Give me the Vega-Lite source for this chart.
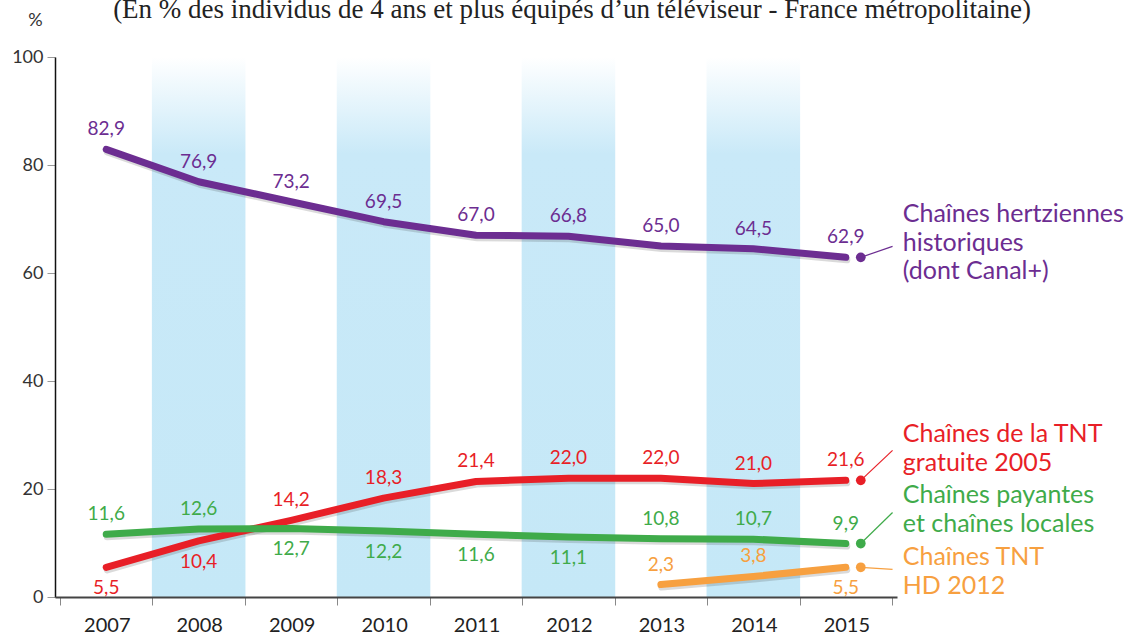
{
  "$schema": "https://vega.github.io/schema/vega-lite/v6.json",
  "width": 842,
  "height": 540,
  "autosize": {"type": "none"},
  "padding": {"left": 55, "top": 57, "right": 244, "bottom": 38},
  "background": "white",
  "config": {
    "locale": {"number": {"decimal": ",", "thousands": "\u00a0", "grouping": [3], "currency": ["", " €"]}},
    "view": {"stroke": null},
    "font": "Lato"
  },
  "title": {
    "text": "(En % des individus de 4 ans et plus équipés d’un téléviseur - France métropolitaine)",
    "font": "Liberation Serif",
    "fontSize": 27,
    "fontWeight": "normal",
    "color": "#222222",
    "anchor": "middle",
    "frame": "group",
    "dx": 96,
    "offset": -34,
    "baseline": "alphabetic"
  },
  "datasets": {
    "tv": [
      {"s": "H", "year": 2007, "v": 82.9},
      {"s": "H", "year": 2008, "v": 76.9},
      {"s": "H", "year": 2009, "v": 73.2},
      {"s": "H", "year": 2010, "v": 69.5},
      {"s": "H", "year": 2011, "v": 67.0},
      {"s": "H", "year": 2012, "v": 66.8},
      {"s": "H", "year": 2013, "v": 65.0},
      {"s": "H", "year": 2014, "v": 64.5},
      {"s": "H", "year": 2015, "v": 62.9},
      {"s": "T", "year": 2007, "v": 5.5},
      {"s": "T", "year": 2008, "v": 10.4},
      {"s": "T", "year": 2009, "v": 14.2},
      {"s": "T", "year": 2010, "v": 18.3},
      {"s": "T", "year": 2011, "v": 21.4},
      {"s": "T", "year": 2012, "v": 22.0},
      {"s": "T", "year": 2013, "v": 22.0},
      {"s": "T", "year": 2014, "v": 21.0},
      {"s": "T", "year": 2015, "v": 21.6},
      {"s": "P", "year": 2007, "v": 11.6},
      {"s": "P", "year": 2008, "v": 12.6},
      {"s": "P", "year": 2009, "v": 12.7},
      {"s": "P", "year": 2010, "v": 12.2},
      {"s": "P", "year": 2011, "v": 11.6},
      {"s": "P", "year": 2012, "v": 11.1},
      {"s": "P", "year": 2013, "v": 10.8},
      {"s": "P", "year": 2014, "v": 10.7},
      {"s": "P", "year": 2015, "v": 9.9},
      {"s": "HD", "year": 2013, "v": 2.3},
      {"s": "HD", "year": 2014, "v": 3.8},
      {"s": "HD", "year": 2015, "v": 5.5}
    ],
    "bands": [{"year": 2008}, {"year": 2010}, {"year": 2012}, {"year": 2014}]
  },
  "data": {"name": "tv"},
  "encoding": {
    "x": {
      "field": "year",
      "type": "quantitative",
      "scale": {"domain": [2006.5, 2015.5], "nice": false, "zero": false},
      "axis": {
        "values": [2006.5, 2007.5, 2008.5, 2009.5, 2010.5, 2011.5, 2012.5, 2013.5, 2014.5, 2015.5],
        "labelExpr": "datum.value < 2015 ? format(datum.value + 0.5, 'd') : ''",
        "labelOffset": 46.78,
        "labelFlush": false,
        "labelOverlap": false,
        "labelBound": false,
        "labelFontSize": 20,
        "labelColor": "#222222",
        "labelPadding": 10,
        "tickSize": 8,
        "tickColor": "#888888",
        "tickWidth": 1,
        "domainColor": "#444444",
        "domainWidth": 2,
        "grid": false,
        "title": null,
        "zindex": 1
      }
    }
  },
  "layer": [
    {
      "data": {"name": "bands"},
      "mark": {
        "type": "bar",
        "width": 93.56,
        "fill": {
          "x1": 0, "y1": 0, "x2": 0, "y2": 1,
          "gradient": "linear",
          "stops": [
            {"offset": 0, "color": "#ffffff"},
            {"offset": 0.18, "color": "#c9e9f8"},
            {"offset": 1, "color": "#c5e8f7"}
          ]
        }
      },
      "encoding": {
        "y": {
          "datum": 100,
          "type": "quantitative",
          "title": "%",
          "scale": {"domain": [0, 100], "nice": false},
          "axis": {
            "values": [0, 20, 40, 60, 80, 100],
            "titleAngle": 0,
            "titleX": -20,
            "titleY": -32,
            "titleAlign": "center",
            "titleBaseline": "alphabetic",
            "titleFontSize": 18,
            "titleFontWeight": "normal",
            "titleColor": "#333333",
            "labelFontSize": 18,
            "labelColor": "#333333",
            "labelPadding": 4,
            "labelFlush": false,
            "tickSize": 8,
            "tickColor": "#999999",
            "domainColor": "#111111",
            "domainWidth": 1.5,
            "gridColor": "#aaaaaa",
            "gridWidth": 1
          }
        },
        "y2": {"datum": 0}
      }
    },
    {
      "mark": {"type": "line", "strokeWidth": 7, "strokeCap": "round", "strokeJoin": "round", "color": "#333333", "opacity": 0.18, "xOffset": 1, "yOffset": 2.5},
      "encoding": {
        "y": {"field": "v", "type": "quantitative", "title": "%", "scale": {"domain": [0, 100], "nice": false}},
        "detail": {"field": "s"}
      }
    },
    {
      "mark": {"type": "line", "strokeWidth": 7, "strokeCap": "round", "strokeJoin": "round"},
      "encoding": {
        "y": {"field": "v", "type": "quantitative", "title": "%", "scale": {"domain": [0, 100], "nice": false}},
        "color": {"field": "s", "type": "nominal", "scale": {"domain": ["H", "T", "P", "HD"], "range": ["#6c2d91", "#e81f27", "#3fab4a", "#f7a040"]}, "legend": null}
      }
    },
    {
      "transform": [{"filter": "!((datum.s == 'T' && datum.year <= 2008) || (datum.s == 'P' && datum.year >= 2009 && datum.year <= 2012) || (datum.s == 'HD' && datum.year == 2015))"}],
      "mark": {"type": "text", "dy": -20, "fontSize": 19, "align": "center", "baseline": "middle"},
      "encoding": {
        "y": {"field": "v", "type": "quantitative", "title": "%", "scale": {"domain": [0, 100], "nice": false}},
        "text": {"field": "v", "type": "quantitative", "format": ".1f"},
        "color": {"field": "s", "type": "nominal", "scale": {"domain": ["H", "T", "P", "HD"], "range": ["#6c2d91", "#e81f27", "#3fab4a", "#f7a040"]}, "legend": null}
      }
    },
    {
      "transform": [{"filter": "(datum.s == 'T' && datum.year <= 2008) || (datum.s == 'P' && datum.year >= 2009 && datum.year <= 2012) || (datum.s == 'HD' && datum.year == 2015)"}],
      "mark": {"type": "text", "dy": 21, "fontSize": 19, "align": "center", "baseline": "middle"},
      "encoding": {
        "y": {"field": "v", "type": "quantitative", "title": "%", "scale": {"domain": [0, 100], "nice": false}},
        "text": {"field": "v", "type": "quantitative", "format": ".1f"},
        "color": {"field": "s", "type": "nominal", "scale": {"domain": ["H", "T", "P", "HD"], "range": ["#6c2d91", "#e81f27", "#3fab4a", "#f7a040"]}, "legend": null}
      }
    },
    {
      "transform": [{"filter": "datum.year == 2015"}],
      "mark": {"type": "circle", "xOffset": 15, "size": 95, "opacity": 1},
      "encoding": {
        "y": {"field": "v", "type": "quantitative", "title": "%", "scale": {"domain": [0, 100], "nice": false}},
        "color": {"field": "s", "type": "nominal", "scale": {"domain": ["H", "T", "P", "HD"], "range": ["#6c2d91", "#e81f27", "#3fab4a", "#f7a040"]}, "legend": null}
      }
    },
    {
      "transform": [{"filter": "datum.year == 2015 && datum.s == 'H'"}],
      "layer": [
        {
          "mark": {"type": "rule", "xOffset": 15, "x2Offset": 46.78, "y2Offset": -11, "strokeWidth": 1.2},
          "encoding": {
            "y": {"field": "v", "type": "quantitative", "title": "%", "scale": {"domain": [0, 100], "nice": false}},
            "x2": {"field": "year"},
            "y2": {"field": "v"},
            "color": {"field": "s", "type": "nominal", "scale": {"domain": ["H", "T", "P", "HD"], "range": ["#6c2d91", "#e81f27", "#3fab4a", "#f7a040"]}, "legend": null}
          }
        },
        {
          "mark": {"type": "text", "xOffset": 57, "dy": -43, "align": "left", "baseline": "middle", "fontSize": 25, "lineHeight": 28.5},
          "encoding": {
            "y": {"field": "v", "type": "quantitative", "title": "%", "scale": {"domain": [0, 100], "nice": false}},
            "text": {"value": ["Chaînes hertziennes", "historiques", "(dont Canal+)"]},
            "color": {"field": "s", "type": "nominal", "scale": {"domain": ["H", "T", "P", "HD"], "range": ["#6c2d91", "#e81f27", "#3fab4a", "#f7a040"]}, "legend": null}
          }
        }
      ]
    },
    {
      "transform": [{"filter": "datum.year == 2015 && datum.s == 'T'"}],
      "layer": [
        {
          "mark": {"type": "rule", "xOffset": 15, "x2Offset": 46.78, "y2Offset": -30, "strokeWidth": 1.2},
          "encoding": {
            "y": {"field": "v", "type": "quantitative", "title": "%", "scale": {"domain": [0, 100], "nice": false}},
            "x2": {"field": "year"},
            "y2": {"field": "v"},
            "color": {"field": "s", "type": "nominal", "scale": {"domain": ["H", "T", "P", "HD"], "range": ["#6c2d91", "#e81f27", "#3fab4a", "#f7a040"]}, "legend": null}
          }
        },
        {
          "mark": {"type": "text", "xOffset": 57, "dy": -46, "align": "left", "baseline": "middle", "fontSize": 25, "lineHeight": 28.5},
          "encoding": {
            "y": {"field": "v", "type": "quantitative", "title": "%", "scale": {"domain": [0, 100], "nice": false}},
            "text": {"value": ["Chaînes de la TNT", "gratuite 2005"]},
            "color": {"field": "s", "type": "nominal", "scale": {"domain": ["H", "T", "P", "HD"], "range": ["#6c2d91", "#e81f27", "#3fab4a", "#f7a040"]}, "legend": null}
          }
        }
      ]
    },
    {
      "transform": [{"filter": "datum.year == 2015 && datum.s == 'P'"}],
      "layer": [
        {
          "mark": {"type": "rule", "xOffset": 15, "x2Offset": 46.78, "y2Offset": -31, "strokeWidth": 1.2},
          "encoding": {
            "y": {"field": "v", "type": "quantitative", "title": "%", "scale": {"domain": [0, 100], "nice": false}},
            "x2": {"field": "year"},
            "y2": {"field": "v"},
            "color": {"field": "s", "type": "nominal", "scale": {"domain": ["H", "T", "P", "HD"], "range": ["#6c2d91", "#e81f27", "#3fab4a", "#f7a040"]}, "legend": null}
          }
        },
        {
          "mark": {"type": "text", "xOffset": 57, "dy": -48.5, "align": "left", "baseline": "middle", "fontSize": 25, "lineHeight": 28.5},
          "encoding": {
            "y": {"field": "v", "type": "quantitative", "title": "%", "scale": {"domain": [0, 100], "nice": false}},
            "text": {"value": ["Chaînes payantes", "et chaînes locales"]},
            "color": {"field": "s", "type": "nominal", "scale": {"domain": ["H", "T", "P", "HD"], "range": ["#6c2d91", "#e81f27", "#3fab4a", "#f7a040"]}, "legend": null}
          }
        }
      ]
    },
    {
      "transform": [{"filter": "datum.year == 2015 && datum.s == 'HD'"}],
      "layer": [
        {
          "mark": {"type": "rule", "xOffset": 15, "x2Offset": 46.78, "y2Offset": 2, "strokeWidth": 1.2},
          "encoding": {
            "y": {"field": "v", "type": "quantitative", "title": "%", "scale": {"domain": [0, 100], "nice": false}},
            "x2": {"field": "year"},
            "y2": {"field": "v"},
            "color": {"field": "s", "type": "nominal", "scale": {"domain": ["H", "T", "P", "HD"], "range": ["#6c2d91", "#e81f27", "#3fab4a", "#f7a040"]}, "legend": null}
          }
        },
        {
          "mark": {"type": "text", "xOffset": 57, "dy": -10, "align": "left", "baseline": "middle", "fontSize": 25, "lineHeight": 28.5},
          "encoding": {
            "y": {"field": "v", "type": "quantitative", "title": "%", "scale": {"domain": [0, 100], "nice": false}},
            "text": {"value": ["Chaînes TNT", "HD 2012"]},
            "color": {"field": "s", "type": "nominal", "scale": {"domain": ["H", "T", "P", "HD"], "range": ["#6c2d91", "#e81f27", "#3fab4a", "#f7a040"]}, "legend": null}
          }
        }
      ]
    }
  ]
}
